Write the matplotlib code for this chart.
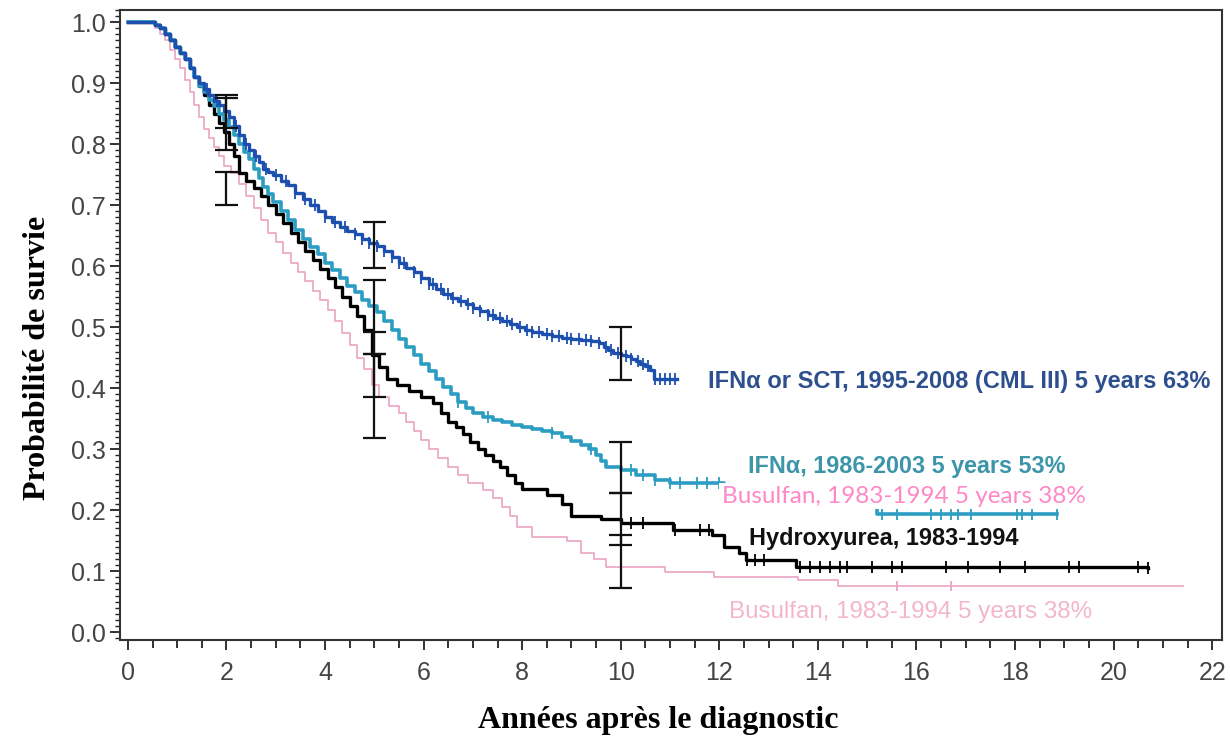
import numpy as np
import matplotlib.pyplot as plt
from matplotlib.ticker import MultipleLocator

# --- Kurvendaten ---
blue_t = [0, 0.45, 0.55, 0.65, 0.75, 0.85, 0.95, 1.05, 1.15, 1.25, 1.35, 1.45, 1.55, 1.65, 1.75,
          1.85, 1.95, 2.05, 2.15, 2.25, 2.35, 2.45, 2.55, 2.65, 2.75, 2.85, 2.95, 3.1, 3.25, 3.4,
          3.55, 3.7, 3.85, 4.0, 4.15, 4.3, 4.45, 4.6, 4.75, 4.9, 5.05, 5.2, 5.35, 5.5, 5.65, 5.8,
          5.95, 6.1, 6.25, 6.4, 6.55, 6.7, 6.85, 7.0, 7.15, 7.3, 7.45, 7.6, 7.75, 7.9, 8.05, 8.2,
          8.4, 8.6, 8.8, 9.0, 9.2, 9.4, 9.55, 9.65, 9.75, 9.85, 10.0, 10.1, 10.2, 10.3, 10.4, 10.5,
          10.6, 10.68, 11.15]
blue_s = [1.0, 1.0, 0.995, 0.99, 0.98, 0.97, 0.96, 0.95, 0.94, 0.925, 0.91, 0.90, 0.89, 0.88, 0.87,
          0.865, 0.855, 0.845, 0.83, 0.815, 0.80, 0.79, 0.78, 0.77, 0.76, 0.755, 0.75, 0.74, 0.733,
          0.72, 0.71, 0.70, 0.69, 0.68, 0.673, 0.665, 0.658, 0.652, 0.645, 0.638, 0.633, 0.625,
          0.615, 0.605, 0.597, 0.59, 0.58, 0.57, 0.562, 0.555, 0.548, 0.543, 0.538, 0.532, 0.527,
          0.52, 0.515, 0.51, 0.505, 0.50, 0.495, 0.492, 0.488, 0.485, 0.482, 0.48, 0.479, 0.477,
          0.474, 0.468, 0.462, 0.458, 0.455, 0.452, 0.448, 0.445, 0.44, 0.436, 0.43, 0.415, 0.415]
blue_cens = [1.6, 1.8, 2.0, 2.2, 2.4, 2.6, 2.8, 3.0, 3.2, 3.4, 3.6, 3.8, 4.0, 4.2, 4.4, 4.6, 4.75,
             4.9, 5.05, 5.2, 5.35, 5.5, 5.6, 5.8, 5.95, 6.1, 6.2, 6.35, 6.5, 6.6, 6.75, 6.9, 7.0,
             7.15, 7.3, 7.4, 7.55, 7.7, 7.8, 7.95, 8.1, 8.2, 8.35, 8.5, 8.6, 8.75, 8.9, 9.0, 9.15,
             9.3, 9.4, 9.55, 9.7, 9.8, 9.95, 10.1, 10.2, 10.35, 10.45, 10.55, 10.7, 10.8, 10.9,
             11.0, 11.1]

cyan_t = [0, 0.45, 0.55, 0.65, 0.75, 0.85, 0.95, 1.05, 1.15, 1.25, 1.35, 1.45, 1.55, 1.65, 1.75,
          1.85, 1.95, 2.05, 2.15, 2.25, 2.35, 2.45, 2.55, 2.65, 2.75, 2.85, 2.95, 3.1, 3.25, 3.4,
          3.55, 3.7, 3.85, 4.0, 4.15, 4.3, 4.45, 4.6, 4.75, 4.9, 5.05, 5.2, 5.35, 5.5, 5.65, 5.8,
          5.95, 6.1, 6.25, 6.4, 6.55, 6.7, 6.85, 7.0, 7.2, 7.4, 7.6, 7.8, 8.0, 8.2, 8.4, 8.6, 8.8,
          9.0, 9.2, 9.35, 9.5, 9.6, 9.7, 10.0, 10.3, 10.7, 11.0, 12.1, 13.5, 15.2, 18.85]
cyan_s = [1.0, 1.0, 0.995, 0.99, 0.98, 0.97, 0.96, 0.95, 0.94, 0.925, 0.91, 0.895, 0.885, 0.873,
          0.862, 0.85, 0.84, 0.828, 0.815, 0.80, 0.787, 0.775, 0.76, 0.745, 0.73, 0.718, 0.705,
          0.69, 0.675, 0.66, 0.645, 0.632, 0.62, 0.605, 0.593, 0.58, 0.568, 0.557, 0.545, 0.535,
          0.525, 0.51, 0.495, 0.48, 0.468, 0.455, 0.44, 0.428, 0.415, 0.402, 0.39, 0.378, 0.368,
          0.36, 0.352, 0.348, 0.344, 0.34, 0.336, 0.333, 0.33, 0.326, 0.32, 0.313, 0.307, 0.30,
          0.29, 0.28, 0.27, 0.266, 0.257, 0.25, 0.245, 0.235, 0.215, 0.193, 0.193]
cyan_cens = [6.7, 7.3, 8.6, 9.4, 10.0, 10.2, 10.45, 10.7, 11.0, 11.2, 11.55, 11.75, 12.0,
             15.3, 15.6, 16.3, 16.5, 16.7, 16.85, 17.1, 18.05, 18.15, 18.35, 18.85]

black_t = [0, 0.45, 0.55, 0.65, 0.75, 0.85, 0.95, 1.05, 1.15, 1.25, 1.35, 1.45, 1.55, 1.65, 1.75,
           1.85, 1.95, 2.05, 2.15, 2.25, 2.4, 2.55, 2.7, 2.85, 3.0, 3.15, 3.3, 3.45, 3.6, 3.75,
           3.9, 4.05, 4.2, 4.35, 4.5, 4.65, 4.8, 4.95, 5.1, 5.25, 5.45, 5.7, 5.95, 6.2, 6.35, 6.5,
           6.65, 6.8, 6.95, 7.1, 7.25, 7.4, 7.55, 7.7, 7.85, 8.0, 8.5, 8.8, 9.0, 9.6, 10.0, 11.05,
           11.85, 12.1, 12.4, 12.55, 13.55, 20.7]
black_s = [1.0, 1.0, 0.995, 0.99, 0.98, 0.97, 0.96, 0.95, 0.94, 0.925, 0.91, 0.895, 0.88, 0.865,
           0.85, 0.835, 0.82, 0.80, 0.78, 0.752, 0.74, 0.728, 0.715, 0.70, 0.685, 0.67, 0.655,
           0.64, 0.625, 0.61, 0.595, 0.58, 0.565, 0.55, 0.535, 0.518, 0.495, 0.455, 0.435, 0.415,
           0.405, 0.395, 0.385, 0.375, 0.36, 0.345, 0.336, 0.325, 0.312, 0.30, 0.29, 0.28, 0.27,
           0.258, 0.245, 0.235, 0.225, 0.21, 0.19, 0.185, 0.179, 0.167, 0.16, 0.14, 0.129, 0.118,
           0.107, 0.105]
black_cens = [10.2, 10.45, 11.1, 11.6, 11.8, 12.56, 12.73, 12.9, 13.64, 13.84, 14.05, 14.25, 14.45,
              14.6, 15.1, 15.5, 15.7, 16.6, 17.05, 17.7, 18.2, 19.1, 19.3, 20.5, 20.7]

pink_t = [0, 0.45, 0.55, 0.65, 0.75, 0.85, 0.95, 1.05, 1.15, 1.25, 1.35, 1.45, 1.55, 1.65, 1.75,
          1.85, 1.95, 2.1, 2.25, 2.4, 2.55, 2.7, 2.85, 3.0, 3.15, 3.3, 3.45, 3.6, 3.75, 3.9, 4.05,
          4.2, 4.35, 4.5, 4.65, 4.8, 4.95, 5.1, 5.3, 5.5, 5.65, 5.8, 5.95, 6.1, 6.3, 6.5, 6.7, 6.9,
          7.2, 7.4, 7.6, 7.75, 7.9, 8.2, 8.9, 9.2, 9.45, 9.7, 10.9, 11.9, 13.6, 14.4, 21.4]
pink_s = [1.0, 1.0, 0.99, 0.98, 0.97, 0.955, 0.94, 0.925, 0.905, 0.885, 0.865, 0.845, 0.825, 0.81,
          0.795, 0.78, 0.765, 0.752, 0.735, 0.715, 0.695, 0.675, 0.655, 0.64, 0.622, 0.605, 0.59,
          0.575, 0.56, 0.545, 0.528, 0.51, 0.49, 0.47, 0.45, 0.432, 0.405, 0.385, 0.37, 0.36,
          0.345, 0.33, 0.315, 0.30, 0.285, 0.27, 0.258, 0.245, 0.233, 0.22, 0.205, 0.19, 0.172,
          0.156, 0.15, 0.13, 0.12, 0.107, 0.098, 0.09, 0.085, 0.075, 0.075]
pink_cens = [15.6, 16.7]

# Konfidenzintervalle (Zeit, unten, oben)
ci_t = [2, 2, 2, 5, 5, 5, 5, 10, 10, 10, 10]
ci_lo = [0.826, 0.79, 0.70, 0.597, 0.456, 0.385, 0.318, 0.413, 0.228, 0.143, 0.072]
ci_hi = [0.88, 0.875, 0.755, 0.672, 0.577, 0.492, 0.456, 0.50, 0.311, 0.228, 0.159]

c_blue = '#1c4fae'
c_cyan = '#2b9dc2'
c_pink = '#eba3c2'


def step_value(t_list, s_list, t):
    idx = np.searchsorted(np.array(t_list), np.array(t), side='right') - 1
    return np.array(s_list)[idx]


fig = plt.figure(figsize=(12.3, 7.4), dpi=100)
ax = fig.add_axes([0.0976, 0.1351, 0.8959, 0.8514])

# --- Kurven ---
ax.step(pink_t, pink_s, where='post', color=c_pink, lw=1.2, zorder=2)
ax.step(black_t, black_s, where='post', color='black', lw=2.4, zorder=3)
ax.step(cyan_t, cyan_s, where='post', color=c_cyan, lw=2.6, zorder=4)
ax.step(blue_t, blue_s, where='post', color=c_blue, lw=2.4, zorder=5)

for ct, tt, ss, col, ms in [(blue_cens, blue_t, blue_s, c_blue, 9),
                            (cyan_cens, cyan_t, cyan_s, c_cyan, 8),
                            (black_cens, black_t, black_s, 'black', 8),
                            (pink_cens, pink_t, pink_s, c_pink, 7)]:
    ax.plot(ct, step_value(tt, ss, ct), '|', color=col, ms=ms, mew=1.3, zorder=5)

# --- Fehlerbalken ---
ci_x = np.array(ci_t)
ax.vlines(ci_x, ci_lo, ci_hi, color='#111111', lw=1.6, zorder=6)
ax.hlines(ci_lo, ci_x - 0.23, ci_x + 0.23, color='#111111', lw=1.6, zorder=6)
ax.hlines(ci_hi, ci_x - 0.23, ci_x + 0.23, color='#111111', lw=1.6, zorder=6)

# --- Beschriftungen ---
ax.text(11.77, 0.411, 'IFNα or SCT, 1995-2008 (CML III) 5 years 63%', color='#2d4f8e',
        fontsize=17, fontweight='bold', family='Liberation Sans', va='center', ha='left')
ax.text(12.58, 0.272, 'IFNα, 1986-2003 5 years 53%', color='#3d95aa',
        fontsize=16.8, fontweight='bold', family='Liberation Sans', va='center', ha='left')
ax.text(12.6, 0.154, 'Hydroxyurea, 1983-1994', color='#111111',
        fontsize=16.9, fontweight='bold', family='Liberation Sans', va='center', ha='left')
ax.text(12.2, 0.033, 'Busulfan, 1983-1994 5 years 38%', color='#f3b6ca',
        fontsize=17.4, family='Liberation Sans', va='center', ha='left', zorder=1)
ax.text(12.05, 0.223, 'Busulfan, 1983-1994 5 years 38%', color='#ff88c6',
        fontsize=17.5, family='Lato', va='center', ha='left', zorder=10,
        bbox=dict(facecolor='white', edgecolor='none', pad=2))

# --- Achsen ---
ax.set_xlim(-0.16, 22.2)
ax.set_ylim(-0.013, 1.02)
ax.xaxis.set_major_locator(MultipleLocator(2))
ax.xaxis.set_minor_locator(MultipleLocator(0.5))
ax.yaxis.set_major_locator(MultipleLocator(0.1))
ax.yaxis.set_minor_locator(MultipleLocator(0.01))
ax.yaxis.set_major_formatter(plt.FuncFormatter(lambda v, p: f'{v:.1f}'))
ax.tick_params(which='major', direction='out', length=7, width=1.3, color='#222222',
               labelsize=18, labelcolor='#444444')
ax.tick_params(axis='x', which='major', pad=8)
ax.tick_params(axis='y', which='major', pad=3)
ax.tick_params(axis='x', which='minor', direction='out', length=6, width=1.3, color='#222222')
ax.tick_params(axis='y', which='minor', direction='out', length=3.5, width=1.0, color='#222222')
for lab in ax.get_xticklabels() + ax.get_yticklabels():
    lab.set_family('Liberation Sans')
for sp in ax.spines.values():
    sp.set_linewidth(1.5)
    sp.set_color('#333333')

ax.set_xlabel('Années après le diagnostic', family='Liberation Serif', fontweight='bold',
              fontsize=23, labelpad=15)
ax.set_ylabel('Probabilité de survie', family='Liberation Serif', fontweight='bold',
              fontsize=23, labelpad=14)
ax.xaxis.label.set_x(0.488)
ax.yaxis.label.set_y(0.448)

fig.savefig('out.png', dpi=100)
